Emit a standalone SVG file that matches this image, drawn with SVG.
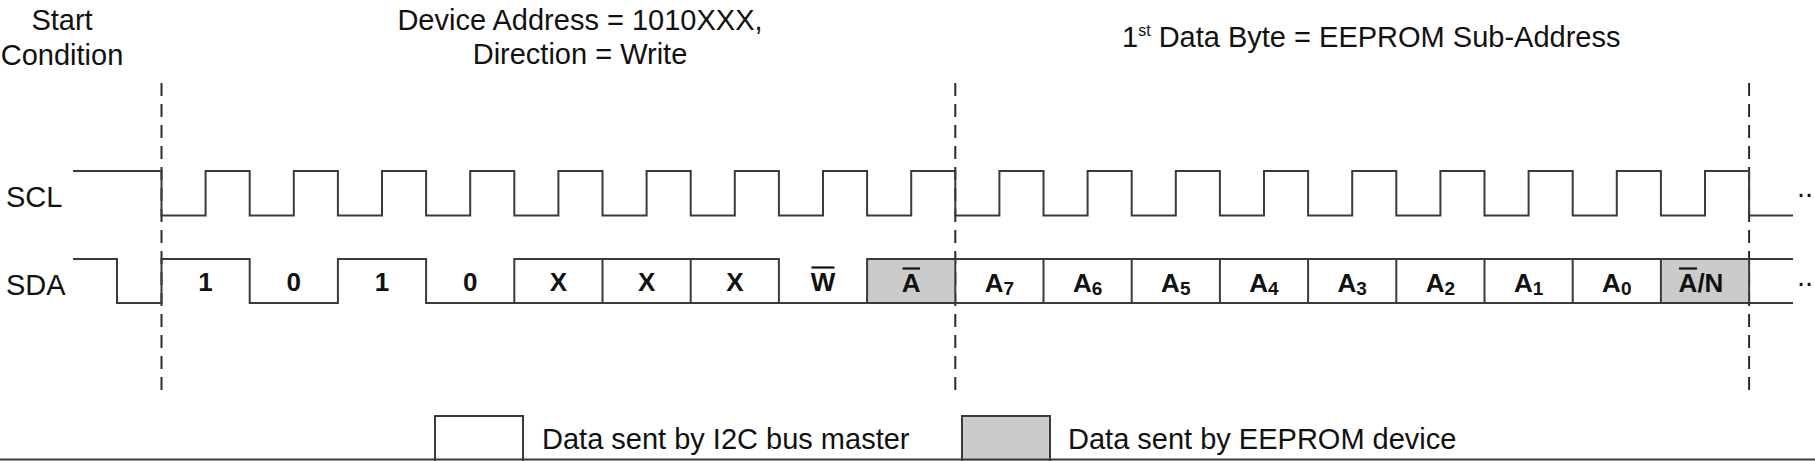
<svg xmlns="http://www.w3.org/2000/svg" width="1815" height="461" viewBox="0 0 1815 461">
<style>
  .t { font-family: "Liberation Sans", Arial, sans-serif; font-size: 29px; fill: #111; }
  .b { font-family: "Liberation Sans", Arial, sans-serif; font-size: 26px; font-weight: bold; fill: #111; text-anchor: middle; }
  .sub { font-size: 19px; }
  .w { fill: none; stroke: #3a3a3a; stroke-width: 2; stroke-linejoin: miter; }
  .sep { stroke: #3a3a3a; stroke-width: 2; }
  .dash { stroke: #2a2a2a; stroke-width: 2; stroke-dasharray: 13 8; fill: none; }
  .ack { fill: #cbcbcb; }
  .bar { stroke: #111; stroke-width: 2.2; }
  .box { stroke: #3a3a3a; stroke-width: 2; }
</style>
<rect width="1815" height="461" fill="#fff"/>

<g id="titles">
  <text class="t" x="62" y="30" text-anchor="middle">Start</text>
  <text class="t" x="62" y="65" text-anchor="middle">Condition</text>
  <text class="t" x="580" y="30" text-anchor="middle">Device Address = 1010XXX,</text>
  <text class="t" x="580" y="64" text-anchor="middle">Direction = Write</text>
  <text class="t" x="1122" y="47">1<tspan font-size="16" dy="-11">st</tspan><tspan dy="11"> Data Byte = EEPROM Sub-Address</tspan></text>
</g>

<g id="signal-labels">
  <text class="t" x="6" y="207">SCL</text>
  <text class="t" x="6" y="295">SDA</text>
  <text class="t" x="1797" y="197">..</text>
  <text class="t" x="1797" y="286">..</text>
</g>

<g id="connectors">
  <line class="dash" x1="161.5" y1="83" x2="161.5" y2="394"/>
  <line class="dash" x1="955.3" y1="83" x2="955.3" y2="394"/>
  <line class="dash" x1="1749.1" y1="83" x2="1749.1" y2="394"/>
</g>

<g id="scl">
  <path class="w" d="M73,171 H161.5 V215.5 H205.6 V171 H249.7 V215.5 H293.8 V171 H337.9 V215.5 H382 V171 H426.1 V215.5 H470.2 V171 H514.3 V215.5 H558.4 V171 H602.5 V215.5 H646.6 V171 H690.7 V215.5 H734.8 V171 H778.9 V215.5 H823 V171 H867.1 V215.5 H911.2 V171 H955.3 V215.5 H999.4 V171 H1043.5 V215.5 H1087.6 V171 H1131.7 V215.5 H1175.8 V171 H1219.9 V215.5 H1264 V171 H1308.1 V215.5 H1352.2 V171 H1396.3 V215.5 H1440.4 V171 H1484.5 V215.5 H1528.6 V171 H1572.7 V215.5 H1616.8 V171 H1660.9 V215.5 H1705 V171 H1749.1 V215.5 H1793"/>
</g>

<g id="sda">
  <rect class="ack" x="867.1" y="259" width="88.2" height="44"/>
  <rect class="ack" x="1660.9" y="259" width="88.2" height="44"/>
  <path class="w" d="M73,259 H117 V303 H161.5 V259 H249.7 V303 H337.9 V259 H426.1 V303 H1793"/>
  <path class="w" d="M514.3,303 V259 H778.9 V303"/>
  <path class="w" d="M867.1,303 V259 H1793"/>
  <g class="sep">
    <line x1="602.5" y1="259" x2="602.5" y2="303"/>
    <line x1="690.7" y1="259" x2="690.7" y2="303"/>
    <line x1="955.3" y1="259" x2="955.3" y2="303"/>
    <line x1="1043.5" y1="259" x2="1043.5" y2="303"/>
    <line x1="1131.7" y1="259" x2="1131.7" y2="303"/>
    <line x1="1219.9" y1="259" x2="1219.9" y2="303"/>
    <line x1="1308.1" y1="259" x2="1308.1" y2="303"/>
    <line x1="1396.3" y1="259" x2="1396.3" y2="303"/>
    <line x1="1484.5" y1="259" x2="1484.5" y2="303"/>
    <line x1="1572.7" y1="259" x2="1572.7" y2="303"/>
    <line x1="1660.9" y1="259" x2="1660.9" y2="303"/>
    <line x1="1749.1" y1="259" x2="1749.1" y2="303"/>
  </g>
</g>

<g id="bit-labels">
  <text class="b" x="205.6" y="291">1</text>
  <text class="b" x="293.8" y="291">0</text>
  <text class="b" x="382" y="291">1</text>
  <text class="b" x="470.2" y="291">0</text>
  <text class="b" x="558.4" y="291">X</text>
  <text class="b" x="646.6" y="291">X</text>
  <text class="b" x="734.8" y="291">X</text>
  <text class="b" x="823" y="291">W</text>
  <line class="bar" x1="811.5" y1="267.5" x2="834.5" y2="267.5"/>
  <text class="b" x="911.2" y="292">A</text>
  <line class="bar" x1="902.5" y1="268.5" x2="920" y2="268.5"/>
  <text class="b" x="999.4" y="292">A<tspan class="sub" dy="3">7</tspan></text>
  <text class="b" x="1087.6" y="292">A<tspan class="sub" dy="3">6</tspan></text>
  <text class="b" x="1175.8" y="292">A<tspan class="sub" dy="3">5</tspan></text>
  <text class="b" x="1264" y="292">A<tspan class="sub" dy="3">4</tspan></text>
  <text class="b" x="1352.2" y="292">A<tspan class="sub" dy="3">3</tspan></text>
  <text class="b" x="1440.4" y="292">A<tspan class="sub" dy="3">2</tspan></text>
  <text class="b" x="1528.6" y="292">A<tspan class="sub" dy="3">1</tspan></text>
  <text class="b" x="1616.8" y="292">A<tspan class="sub" dy="3">0</tspan></text>
  <text class="b" x="1701" y="292">A/N</text>
  <line class="bar" x1="1679" y1="268.5" x2="1697" y2="268.5"/>
</g>

<g id="legend">
  <g id="legend-master">
    <rect class="box" x="435" y="416" width="88" height="46" fill="#fff"/>
    <text class="t" x="542" y="449">Data sent by I2C bus master</text>
  </g>
  <g id="legend-eeprom">
    <rect class="box ack" x="962" y="416" width="88" height="46"/>
    <text class="t" x="1068" y="449">Data sent by EEPROM device</text>
  </g>
  <line x1="0" y1="459.5" x2="1815" y2="459.5" stroke="#3a3a3a" stroke-width="2"/>
</g>
</svg>
